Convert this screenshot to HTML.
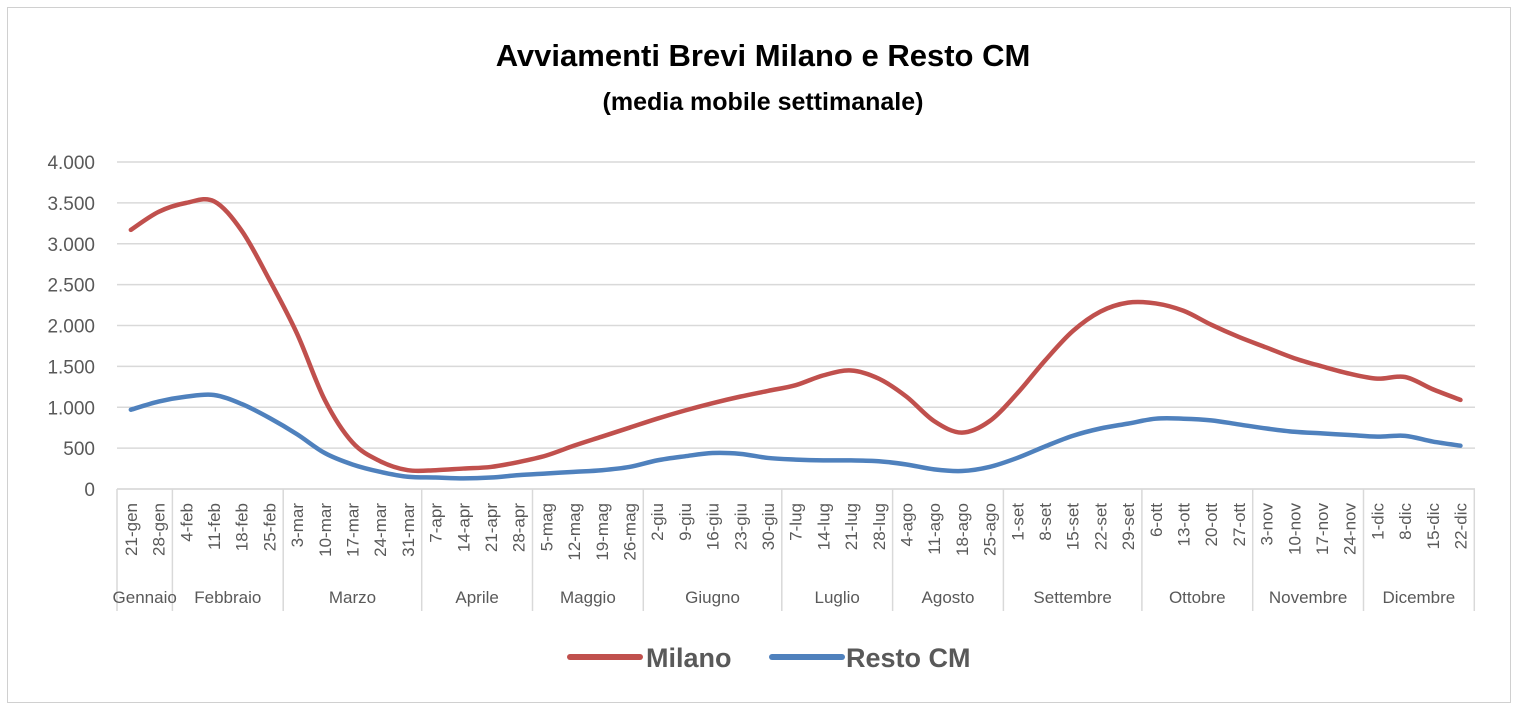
<!DOCTYPE html>
<html><head><meta charset="utf-8"><style>
body{margin:0;background:#fff;}
svg{display:block;font-family:"Liberation Sans",sans-serif;}
</style></head><body>
<svg id="s" width="1518" height="710" xmlns="http://www.w3.org/2000/svg">
<rect x="7.5" y="7.5" width="1503" height="695" fill="#fff" stroke="#d0d0d0" stroke-width="1"/>
<text x="763" y="66" text-anchor="middle" font-size="31" font-weight="bold" fill="#000">Avviamenti Brevi Milano e Resto CM</text>
<text x="763" y="110" text-anchor="middle" font-size="25" font-weight="bold" fill="#000">(media mobile settimanale)</text>
<g id="g"></g>
<line x1="570" y1="657" x2="640" y2="657" stroke="#c0504d" stroke-width="6" stroke-linecap="round"/>
<text x="646" y="667" font-size="27" font-weight="bold" fill="#595959">Milano</text>
<line x1="772" y1="657" x2="842" y2="657" stroke="#4f81bd" stroke-width="6" stroke-linecap="round"/>
<text x="846" y="667" font-size="27" font-weight="bold" fill="#595959">Resto CM</text>
</svg>
<script>
var g=document.getElementById('g'),h='';
var X0=117,W=27.7,Y0=489,K=327/4000;
var yl=['0','500','1.000','1.500','2.000','2.500','3.000','3.500','4.000'];
for(var i=0;i<=8;i++){var y=Y0-i*500*K;h+='<line x1="'+X0+'" x2="1475" y1="'+y+'" y2="'+y+'" stroke="#d9d9d9" stroke-width="1.5"/>';h+='<text x="95" y="'+(y+7)+'" text-anchor="end" font-size="19" fill="#595959">'+yl[i]+'</text>';}
var lab=['21-gen','28-gen','4-feb','11-feb','18-feb','25-feb','3-mar','10-mar','17-mar','24-mar','31-mar','7-apr','14-apr','21-apr','28-apr','5-mag','12-mag','19-mag','26-mag','2-giu','9-giu','16-giu','23-giu','30-giu','7-lug','14-lug','21-lug','28-lug','4-ago','11-ago','18-ago','25-ago','1-set','8-set','15-set','22-set','29-set','6-ott','13-ott','20-ott','27-ott','3-nov','10-nov','17-nov','24-nov','1-dic','8-dic','15-dic','22-dic'];
for(var i=0;i<49;i++){var x=X0+W*(i+0.5)+6;h+='<text transform="translate('+x+',503) rotate(-90)" text-anchor="end" font-size="17" fill="#595959">'+lab[i]+'</text>';}
var months=[['Gennaio',2],['Febbraio',4],['Marzo',5],['Aprile',4],['Maggio',4],['Giugno',5],['Luglio',4],['Agosto',4],['Settembre',5],['Ottobre',4],['Novembre',4],['Dicembre',4]];
var c=0;h+='<line x1="'+X0+'" x2="1475" y1="'+Y0+'" y2="'+Y0+'" stroke="#d9d9d9" stroke-width="1.5"/>';
h+='<line x1="'+X0+'" x2="'+X0+'" y1="'+Y0+'" y2="611" stroke="#d9d9d9" stroke-width="1.5"/>';
for(var m=0;m<months.length;m++){var a=X0+c*W;c+=months[m][1];var b=X0+c*W;h+='<line x1="'+b+'" x2="'+b+'" y1="'+Y0+'" y2="611" stroke="#d9d9d9" stroke-width="1.5"/>';h+='<text x="'+((a+b)/2)+'" y="603" text-anchor="middle" font-size="17" fill="#595959">'+months[m][0]+'</text>';}
var mi=[3170,3390,3500,3520,3160,2560,1900,1090,570,340,230,230,250,270,330,410,530,640,750,860,960,1050,1130,1200,1270,1390,1450,1350,1130,830,690,830,1170,1570,1930,2170,2280,2270,2180,2010,1860,1730,1600,1500,1410,1350,1370,1220,1090];
var re=[970,1070,1130,1150,1040,870,670,440,300,210,150,140,130,140,170,190,210,230,270,350,400,440,430,380,360,350,350,340,300,240,220,270,380,520,650,740,800,860,860,840,790,740,700,680,660,640,650,580,530];
function path(d){var p=d.map(function(v,i){return [X0+W*(i+0.5),Y0-v*K];});var s='M'+p[0][0]+','+p[0][1];
for(var i=0;i<p.length-1;i++){var p0=p[i-1]||p[i],p1=p[i],p2=p[i+1],p3=p[i+2]||p2;var t=1/6;
s+=' C'+(p1[0]+(p2[0]-p0[0])*t)+','+(p1[1]+(p2[1]-p0[1])*t)+' '+(p2[0]-(p3[0]-p1[0])*t)+','+(p2[1]-(p3[1]-p1[1])*t)+' '+p2[0]+','+p2[1];}return s;}
h+='<path d="'+path(mi)+'" fill="none" stroke="#c0504d" stroke-width="4.5" stroke-linecap="round"/>';
h+='<path d="'+path(re)+'" fill="none" stroke="#4f81bd" stroke-width="4.5" stroke-linecap="round"/>';
g.innerHTML=h;
</script>
</body></html>
